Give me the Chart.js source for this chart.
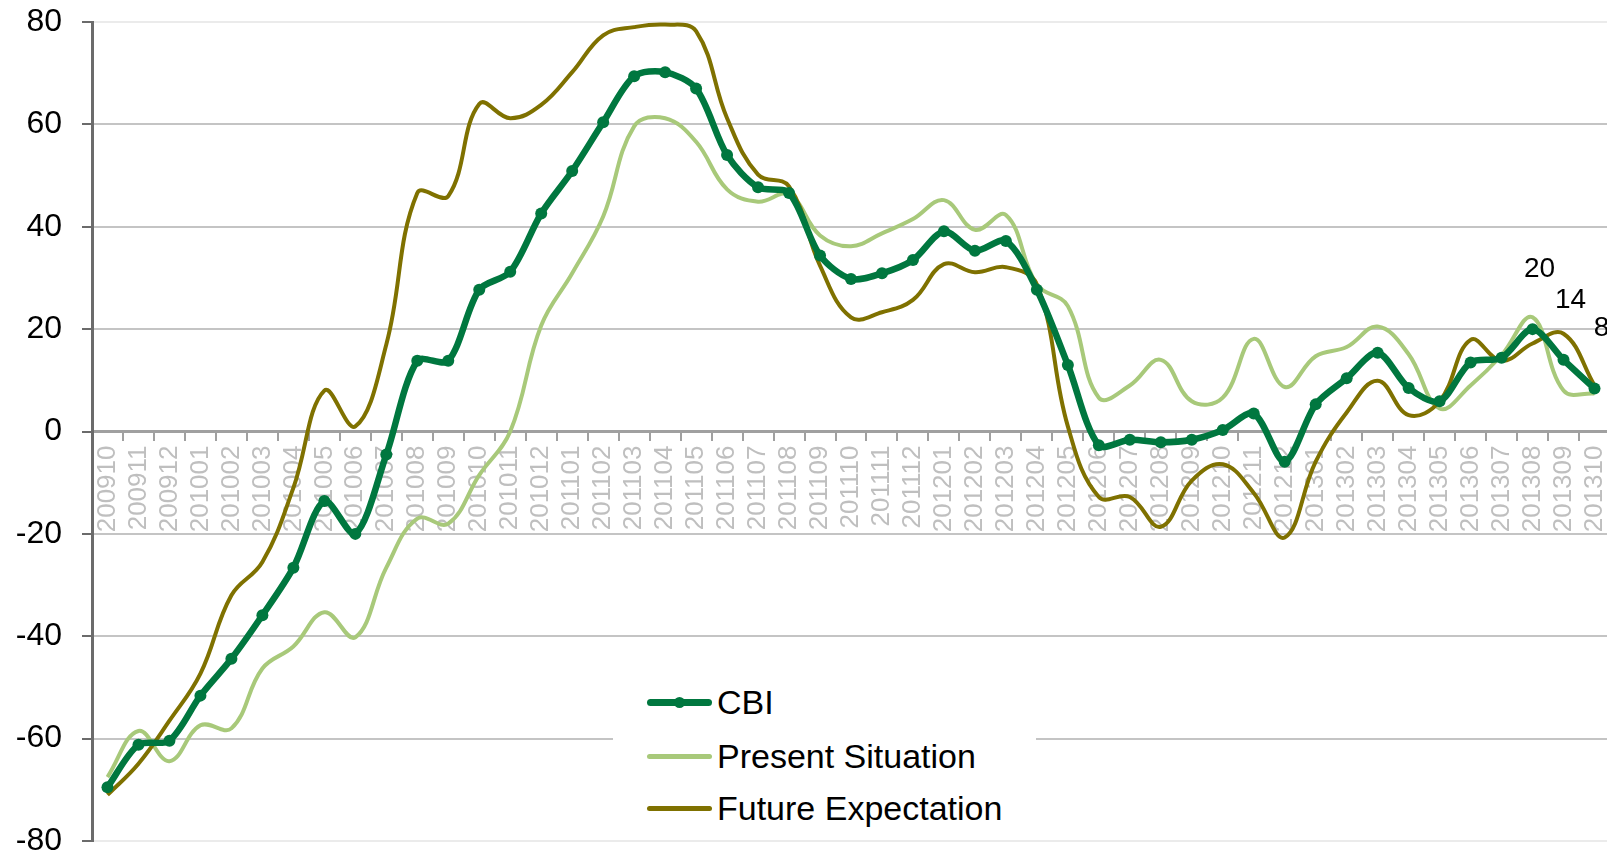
<!DOCTYPE html>
<html>
<head>
<meta charset="utf-8">
<script src="https://cdn.jsdelivr.net/npm/chart.js@4.4.1/dist/chart.umd.min.js"></script>
<style>
html,body{margin:0;padding:0;background:#fff;overflow:hidden;width:1607px;height:854px;}
#wrap{position:relative;width:1607px;height:854px;overflow:hidden;}
#c{position:absolute;left:0;top:0;}
#legend{position:absolute;left:613px;top:668px;width:423px;height:168px;background:#fff;font-family:"Liberation Sans",Arial,sans-serif;font-size:34px;color:#000;}
.row{position:absolute;left:0;width:423px;height:50px;}
.sample{position:absolute;left:34px;width:65px;border-radius:4px;}
.dot{position:absolute;border-radius:50%;}
.txt{position:absolute;left:104px;line-height:50px;top:0;white-space:nowrap;}
</style>
</head>
<body>
<div id="wrap">
<canvas id="c" width="1616" height="854"></canvas>
<div id="legend"></div>
</div>
<script>
// ---- data ----
const months = ["200910","200911","200912","201001","201002","201003","201004","201005","201006","201007","201008","201009","201010","201011","201012","201101","201102","201103","201104","201105","201106","201107","201108","201109","201110","201111","201112","201201","201202","201203","201204","201205","201206","201207","201208","201209","201210","201211","201212","201301","201302","201303","201304","201305","201306","201307","201308","201309","201310"];

const cbi = [-69.5,-61.2,-60.4,-51.6,-44.4,-35.9,-26.6,-13.6,-20,-4.5,13.8,13.8,27.7,31.2,42.6,50.9,60.4,69.4,70.2,67,54,47.7,46.6,34.4,29.8,30.9,33.5,39.1,35.3,37.2,27.7,13,-2.7,-1.6,-2.1,-1.6,0.3,3.5,-5.9,5.3,10.4,15.4,8.5,5.9,13.5,14.4,20,14,8.4];

const presentSituation = [-67.5,-58.5,-64.4,-57.4,-58,-46.3,-42,-35.3,-40.2,-26.6,-17,-18,-8.5,0,20.7,30.9,42,59.6,61.2,56.6,47.3,44.9,46.3,38.3,36.2,38.7,41.5,45.2,39.4,42.3,28.7,24.5,6.6,9,14,5.9,6.6,18.1,8.7,14.7,16.5,20.5,15.1,4.5,9,14.9,22.3,8,7.4];

const futureExpectation = [-71,-64.9,-56.5,-47.3,-32,-25.5,-11,8,1,17,46.6,46,64,61.2,63.8,70.2,77.4,79,79.5,78.2,61.2,50.2,47.9,32.4,22.3,23.3,25.7,32.7,31.1,32.1,28.7,1,-12.8,-12.8,-18.6,-9.6,-6.4,-12,-20.7,-5.9,3.7,9.9,3.2,5.9,17.9,13.8,17.2,19.1,9];

const seriesNames = ["CBI","Present Situation","Future Expectation"];
const seriesColors = ["#00773F","#A8C97A","#7F7100"];
const yTicks = [-80,-60,-40,-20,0,20,40,60,80];
const labeledPoints = [46,47,48];

const FONT = '"Liberation Sans", Arial, sans-serif';

const endLabels = {
  id:'endLabels',
  afterDatasetsDraw(chart){
    const meta = chart.getDatasetMeta(0);
    const ctx = chart.ctx;
    ctx.save();
    ctx.font = '28px ' + FONT;
    ctx.fillStyle = '#000';
    ctx.textAlign = 'center';
    ctx.textBaseline = 'middle';
    labeledPoints.forEach(i => {
      const p = meta.data[i];
      ctx.fillText(String(Math.round(cbi[i])), p.x + 7, p.y - 60);
    });
    ctx.restore();
  }
};

new Chart(document.getElementById('c'), {
  type:'line',
  data:{
    labels: months,
    datasets:[
      {label:seriesNames[0], data:cbi, borderColor:seriesColors[0], backgroundColor:seriesColors[0], borderWidth:6.5, pointRadius:6, pointBackgroundColor:seriesColors[0], pointBorderWidth:0, tension:0.3, order:0},
      {label:seriesNames[1], data:presentSituation, borderColor:seriesColors[1], backgroundColor:seriesColors[1], borderWidth:4, pointRadius:0, tension:0.4, order:2},
      {label:seriesNames[2], data:futureExpectation, borderColor:seriesColors[2], backgroundColor:seriesColors[2], borderWidth:4, pointRadius:0, tension:0.4, order:1}
    ]
  },
  options:{
    responsive:false,
    animation:false,
    devicePixelRatio:1,
    layout:{padding:{left:0, top:22, right:1, bottom:13}},
    plugins:{legend:{display:false}, tooltip:{enabled:false}},
    scales:{
      x:{
        type:'category',
        position:{y:0},
        offset:true,
        grid:{offset:true, drawOnChartArea:false, drawTicks:true, tickLength:8, color:'#A0A0A0', tickColor:'#A0A0A0', lineWidth:2},
        border:{display:true, color:'#A0A0A0', width:3},
        ticks:{minRotation:90, maxRotation:90, autoSkip:false, color:'#BFBFBF', font:{family:FONT, size:26}, padding:6},
        afterFit(s){ s.paddingLeft = 0; s.paddingRight = 0; }
      },
      y:{
        min:-80, max:80,
        afterBuildTicks(s){ s.ticks = yTicks.map(v => ({value:v})); },
        grid:{
          color:(c) => (c.tick && (c.tick.value === 80 || c.tick.value === -80)) ? '#EBEBEB' : '#C4C4C4',
          tickColor:'#6B6B6B', lineWidth:2, tickLength:10
        },
        border:{display:true, color:'#6B6B6B', width:3},
        ticks:{color:'#000', font:{family:FONT, size:32}, padding:20},
        afterFit(s){ s.width = 92; s.paddingTop = 0; s.paddingBottom = 0; }
      }
    }
  },
  plugins:[endLabels]
});

// HTML legend built from the series arrays
const legend = document.getElementById('legend');
const rowCenters = [34, 88, 140];
const sampleThickness = [7, 5, 5];
seriesNames.forEach((name, i) => {
  const row = document.createElement('div');
  row.className = 'row';
  row.style.top = (rowCenters[i] - 25) + 'px';
  const s = document.createElement('div');
  s.className = 'sample';
  s.style.background = seriesColors[i];
  s.style.height = sampleThickness[i] + 'px';
  s.style.top = (25 - sampleThickness[i] / 2) + 'px';
  row.appendChild(s);
  if (i === 0) {
    const d = document.createElement('div');
    d.className = 'dot';
    d.style.background = seriesColors[i];
    d.style.width = '11px'; d.style.height = '11px';
    d.style.left = (34 + 32.5 - 5.5) + 'px';
    d.style.top = (25 - 5.5) + 'px';
    row.appendChild(d);
  }
  const t = document.createElement('div');
  t.className = 'txt';
  t.textContent = name;
  row.appendChild(t);
  legend.appendChild(row);
});
</script>
</body>
</html>
